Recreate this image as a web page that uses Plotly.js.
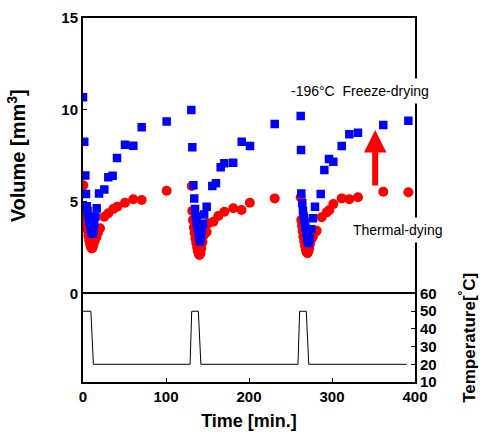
<!DOCTYPE html>
<html>
<head>
<meta charset="utf-8">
<script src="https://cdn.plot.ly/plotly-3.0.1.min.js"></script>
<style>html,body{margin:0;padding:0;background:#fff;}#chart{width:483px;height:439px;}</style>
</head>
<body>
<div id="chart"></div>
<script>
// Freeze-drying (-196°C) volumes [mm3]
var freezeTime = [0, 1.5, 2.8, 3.6, 4.5, 5.5, 6.5, 7.5, 8.5, 9.5, 10.5, 11.5, 12.5, 13.5, 15, 16.5, 19.3, 25.7, 30.5, 35.7, 41, 50.6, 60.6, 70.7, 100.8,
  130.5, 131.7, 133, 134, 135, 136, 137, 138, 139, 140, 141, 142, 143, 144.5, 146, 149, 155.8, 160.2, 165.9, 170.3, 181, 191.2, 201.2, 231,
  262.3, 262.7, 263, 264.2, 265, 266, 267, 268, 269, 270, 271, 272, 273, 275, 277, 279.5, 286.4, 290.8, 296.4, 301.6, 311.7, 320.9, 331.3, 361.8, 392];
var freezeVol = [10.68, 8.26, 6.43, 5.42, 4.75, 4.5, 4.2, 3.95, 3.7, 3.5, 3.3, 3.25, 3.4, 3.8, 4.2, 4.65, 5.45, 5.67, 6.33, 6.41, 7.38, 8.1, 8.05, 9.05, 9.37,
  9.99, 7.96, 5.89, 5.18, 4.6, 4.2, 3.9, 3.6, 3.3, 3.05, 2.85, 3.0, 3.4, 3.8, 4.3, 4.73, 5.85, 6.0, 6.87, 7.09, 7.12, 8.26, 8.03, 9.23,
  9.66, 7.81, 5.45, 4.91, 4.5, 4.2, 3.9, 3.6, 3.3, 3.05, 2.8, 2.75, 3.0, 3.5, 4.1, 4.73, 5.42, 6.72, 7.32, 7.18, 8.03, 8.67, 8.76, 9.17, 9.41];
// Thermal-drying volumes [mm3]
var thermalTime = [0.4, 2.4, 3.5, 4.5, 5.5, 6.5, 7.5, 8.5, 9.5, 10.5, 11.5, 12.5, 14, 16, 18, 20.5, 25.7, 30.5, 36.5, 41.3, 50.6, 60.6, 70.7, 100.8,
  131, 131.7, 132.5, 133.5, 134.5, 135.5, 136.5, 137.5, 138.5, 139.5, 140.5, 141.5, 142.5, 144, 146, 149, 151, 157, 163, 170.3, 181, 191, 201, 231,
  262.3, 263, 263.8, 264.6, 265.5, 266.5, 267.5, 268.5, 269.5, 270.5, 271.5, 272.5, 273.5, 275, 277, 279, 281.5, 287.6, 293.6, 296.8, 301.6, 311.7, 320.9, 331.3, 361.8, 392];
var thermalVol = [5.89, 4.55, 4.1, 3.75, 3.45, 3.15, 2.9, 2.7, 2.55, 2.45, 2.5, 2.65, 2.85, 3.05, 3.3, 3.55, 4.18, 4.37, 4.6, 4.73, 4.94, 5.13, 5.09, 5.6,
  5.85, 4.5, 4.0, 3.6, 3.3, 3.0, 2.75, 2.5, 2.3, 2.15, 2.1, 2.2, 2.45, 2.8, 3.2, 3.35, 3.82, 3.91, 4.22, 4.45, 4.64, 4.55, 4.94, 5.18,
  5.24, 4.0, 3.7, 3.4, 3.1, 2.85, 2.6, 2.4, 2.25, 2.2, 2.3, 2.45, 2.7, 2.95, 3.1, 3.3, 3.42, 4.15, 4.42, 4.55, 4.87, 5.18, 5.14, 5.24, 5.54, 5.51];
// Temperature profile [°C]
var tempTime = [0, 9.5, 12.5, 129, 131, 139, 142, 259, 261, 269, 272, 390];
var tempVal  = [50, 50, 20, 20, 50, 50, 20, 20, 50, 50, 20, 20];

var xTicks = [0, 100, 200, 300, 400];
var volTicks = [0, 5, 10, 15];
var tempTicks = [10, 20, 30, 40, 50, 60];

var tickFont = {family: 'Liberation Sans, Arial, sans-serif', size: 15, color: '#000', weight: 'bold'};
var titleFont = {family: 'Liberation Sans, Arial, sans-serif', size: 18, color: '#000', weight: 'bold'};

var traces = [
  {x: thermalTime, y: thermalVol, xaxis: 'x2', yaxis: 'y', mode: 'markers', type: 'scatter',
   marker: {symbol: 'circle', size: 10, color: '#ff0000', line: {width: 0}}},
  {x: freezeTime, y: freezeVol, xaxis: 'x2', yaxis: 'y', mode: 'markers', type: 'scatter',
   marker: {symbol: 'square', size: 8.5, color: '#0000ff', line: {width: 0}}},
  {x: tempTime, y: tempVal, xaxis: 'x', yaxis: 'y2', mode: 'lines', type: 'scatter',
   line: {color: '#000', width: 1}}
];

var layout = {
  width: 483, height: 439,
  margin: {l: 83, r: 68, t: 18, b: 57},
  paper_bgcolor: '#fff', plot_bgcolor: '#fff',
  showlegend: false,
  xaxis: {domain: [0, 1], anchor: 'y2', range: [0, 400], tickvals: xTicks, ticks: 'inside', ticklen: 4,
          tickcolor: '#000', showline: true, linecolor: '#000', linewidth: 2, mirror: true, showgrid: false,
          zeroline: false, tickfont: tickFont, layer: 'below traces',
          title: {text: 'Time [min.]', font: titleFont, standoff: 10}},
  xaxis2: {domain: [0, 1], anchor: 'y', side: 'top', matches: 'x', range: [0, 400], showticklabels: false, ticks: '',
           showline: true, linecolor: '#000', linewidth: 2, mirror: false, showgrid: false, zeroline: false,
           layer: 'below traces'},
  yaxis: {domain: [0.243, 1], anchor: 'x2', range: [0, 15], tickvals: volTicks, ticks: 'inside', ticklen: 4,
          tickcolor: '#000', showline: true, linecolor: '#000', linewidth: 2, mirror: true, showgrid: false,
          zeroline: false, tickfont: tickFont, layer: 'below traces',
          title: {text: 'Volume [mm<sup>3</sup>]', font: {family: titleFont.family, size: 20, color: '#000', weight: 'bold'}, standoff: 30}},
  yaxis2: {domain: [0, 0.243], anchor: 'x', side: 'right', range: [10, 60], tickvals: tempTicks, ticks: 'inside', ticklen: 4,
           tickcolor: '#000', showline: true, linecolor: '#000', linewidth: 2, mirror: true, showgrid: false,
           zeroline: false, tickfont: tickFont, layer: 'below traces',
           title: {text: 'Temperature[<sup>°</sup>C]', font: {family: titleFont.family, size: 17, color: '#000', weight: 'bold'}, standoff: 27}},
  annotations: [
    {x: 334, y: 11.04, xref: 'x2', yref: 'y', text: '-196°C  Freeze-drying', showarrow: false,
     font: {family: 'Liberation Sans, Arial, sans-serif', size: 14, color: '#000'}, bgcolor: '#fff', borderpad: 4},
    {x: 379, y: 3.46, xref: 'x2', yref: 'y', text: 'Thermal-dying', showarrow: false,
     font: {family: 'Liberation Sans, Arial, sans-serif', size: 14, color: '#000'}, bgcolor: '#fff', borderpad: 4},
    {x: 352, y: 8.9, xref: 'x2', yref: 'y', ax: 352, ay: 5.8, axref: 'x2', ayref: 'y', text: '', showarrow: true,
     arrowhead: 2, arrowsize: 0.75, arrowwidth: 6, arrowcolor: '#ff0000', standoff: 0, startstandoff: 0}
  ]
};

Plotly.newPlot('chart', traces, layout, {displayModeBar: false, staticPlot: true});
</script>
</body>
</html>
